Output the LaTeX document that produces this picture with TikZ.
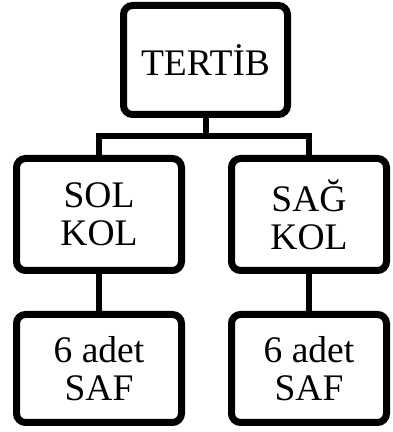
\documentclass[tikz,border=0pt]{standalone}
\usepackage{fontspec}
\setmainfont{Liberation Serif}
\usetikzlibrary{shadows}

\begin{document}
\begin{tikzpicture}[x=1pt,y=1pt,
  kutu/.style={draw, line width=7pt, rounded corners=9pt, fill=white,
    align=center, inner sep=0pt, font=\fontsize{37.5}{38}\selectfont,
    drop shadow={opacity=0.2, shadow xshift=2pt, shadow yshift=-2pt}},
  bag/.style={line width=6pt}]
\useasboundingbox (0,0) rectangle (392,432);

% ust kutu
\node[kutu, minimum width=164pt, minimum height=109pt] (tertib) at (205.5,372) {TERTİB};

% kollar
\node[kutu, minimum width=165pt, minimum height=112pt] (sol) at (99,217.5) {SOL\\KOL};
\node[kutu, minimum width=155pt, minimum height=112pt] (sag) at (309,217.5) {SAĞ\\KOL};

% saflar
\node[kutu, minimum width=165pt, minimum height=108pt] (saf1) at (99,63.5) {6 adet\\SAF};
\node[kutu, minimum width=155pt, minimum height=108pt] (saf2) at (309,63.5) {6 adet\\SAF};

% baglantilar
\coordinate (bar) at (205.5,296);
\draw[bag] (tertib.south) -- (bar);
\draw[bag] (sol.north) |- (bar) -| (sag.north);
\draw[bag] (sol.south) -- (saf1.north);
\draw[bag] (sag.south) -- (saf2.north);
\end{tikzpicture}
\end{document}
